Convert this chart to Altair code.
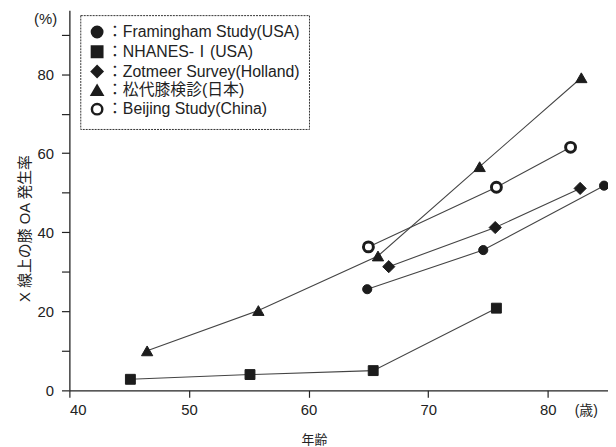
import altair as alt
import pandas as pd

FONT = "'Liberation Sans', 'Noto Sans CJK JP', sans-serif"

series_names = [
    "Framingham Study(USA)",
    "NHANES-Ⅰ(USA)",
    "Zotmeer Survey(Holland)",
    "松代膝検診(日本)",
    "Beijing Study(China)",
]
shapes = ["circle", "square", "diamond", "triangle-up", "circle"]
fills = ["#1c1c1c", "#1c1c1c", "#1c1c1c", "#1c1c1c", "white"]
strokes = ["#1c1c1c", "#1c1c1c", "#1c1c1c", "#1c1c1c", "#1c1c1c"]
sizes = [85, 100, 150, 130, 100]

framingham_age = [64.9, 74.6, 84.7]
framingham_val = [25.6, 35.5, 51.8]
nhanes_age = [45.1, 55.1, 65.4, 75.7]
nhanes_val = [2.8, 4.0, 5.0, 20.8]
zotmeer_age = [66.7, 75.6, 82.7]
zotmeer_val = [31.3, 41.2, 51.1]
matsudai_age = [46.5, 55.8, 65.8, 74.3, 82.8]
matsudai_val = [10.0, 20.2, 34.0, 56.6, 79.1]
beijing_age = [65.0, 75.7, 81.9]
beijing_val = [36.3, 51.4, 61.5]

x_ticks = [40, 50, 60, 70, 80]
y_ticks = [0, 10, 20, 30, 40, 50, 60, 70, 80, 90]

rows = []
for name, ages, vals in zip(
    series_names,
    [framingham_age, nhanes_age, zotmeer_age, matsudai_age, beijing_age],
    [framingham_val, nhanes_val, zotmeer_val, matsudai_val, beijing_val],
):
    for a, v in zip(ages, vals):
        rows.append({"series": name, "age": a, "rate": v})
df = pd.DataFrame(rows)

x_enc = alt.X(
    "age:Q",
    scale=alt.Scale(domain=[40, 85.03], nice=False, zero=False),
    axis=alt.Axis(
        values=x_ticks,
        title="年齢",
        titleX=247,
        titleY=50,
        titleAnchor="start",
        titleAlign="center",
        titleBaseline="middle",
        titleFontSize=13,
        titleFontWeight="normal",
        titleFont=FONT,
        titleColor="#222",
        grid=False,
        tickSize=7,
        labelPadding=5,
        labelFontSize=15,
        labelFont=FONT,
        labelColor="#222",
        domainColor="#222",
        tickColor="#222",
        domainWidth=1.3,
        tickWidth=1.2,
    ),
)
y_enc = alt.Y(
    "rate:Q",
    scale=alt.Scale(domain=[0, 96.2], nice=False),
    axis=alt.Axis(
        values=y_ticks,
        labelExpr="datum.value % 20 == 0 ? datum.label : ''",
        title="X 線上の膝 OA 発生率",
        titleX=-45,
        titleY=220,
        titleAngle=270,
        titleAlign="center",
        titleBaseline="middle",
        titleFontSize=15,
        titleFontWeight="normal",
        titleFont=FONT,
        titleColor="#222",
        grid=False,
        tickSize=8,
        labelPadding=8,
        labelFontSize=15,
        labelFont=FONT,
        labelColor="#222",
        domainColor="#222",
        tickColor="#222",
        domainWidth=1.3,
        tickWidth=1.2,
    ),
)

lines = alt.Chart(df).mark_line(color="#444", strokeWidth=1.1).encode(
    x=x_enc, y=y_enc, detail="series:N"
)

leg = alt.Legend(
    labelExpr="'：' + datum.label",
    labelOffset=2,
    rowPadding=-2,
)

size_rule = (
    alt.when(alt.datum.series == series_names[0]).then(alt.value(sizes[0]))
    .when(alt.datum.series == series_names[1]).then(alt.value(sizes[1]))
    .when(alt.datum.series == series_names[2]).then(alt.value(sizes[2]))
    .when(alt.datum.series == series_names[3]).then(alt.value(sizes[3]))
    .otherwise(alt.value(sizes[4]))
)

points = alt.Chart(df).mark_point(filled=False, opacity=1).encode(
    x=x_enc,
    y=y_enc,
    shape=alt.Shape(
        "series:N",
        scale=alt.Scale(domain=series_names, range=shapes),
        title=None,
        legend=leg,
    ),
    fill=alt.Fill(
        "series:N",
        scale=alt.Scale(domain=series_names, range=fills),
        title=None,
        legend=leg,
    ),
    stroke=alt.Stroke(
        "series:N",
        scale=alt.Scale(domain=series_names, range=strokes),
        title=None,
        legend=leg,
    ),
    size=size_rule,
    strokeWidth=alt.condition(
        alt.datum.series == "Beijing Study(China)", alt.value(3), alt.value(1)
    ),
)

unit_y = alt.Chart(pd.DataFrame({"t": ["(%)"]})).mark_text(
    fontSize=15, font=FONT, color="#222", align="center", baseline="middle"
).encode(text="t:N", x=alt.value(-24), y=alt.value(9))

unit_x = alt.Chart(pd.DataFrame({"t": ["(歳)"]})).mark_text(
    fontSize=14, font=FONT, color="#222", align="center", baseline="middle"
).encode(text="t:N", x=alt.value(522), y=alt.value(405))

chart = (
    alt.layer(lines, points, unit_y, unit_x)
    .properties(
        width=544,
        height=384,
        autosize=alt.AutoSizeParams(type="none"),
        padding={"left": 62, "top": 0, "right": 0, "bottom": 55},
        background="white",
    )
    .configure_view(stroke=None)
    .configure_legend(
        orient="none",
        legendX=11,
        legendY=5,
        strokeColor="#333",
        strokeDash=[2, 1],
        fillColor="white",
        padding=9,
        labelFontSize=16,
        labelFont=FONT,
        labelColor="#222",
        labelLimit=400,
        symbolSize=110,
        symbolStrokeWidth=2.5,
    )
)

chart.save("out.html", embed_options={"renderer": "svg", "actions": False})
